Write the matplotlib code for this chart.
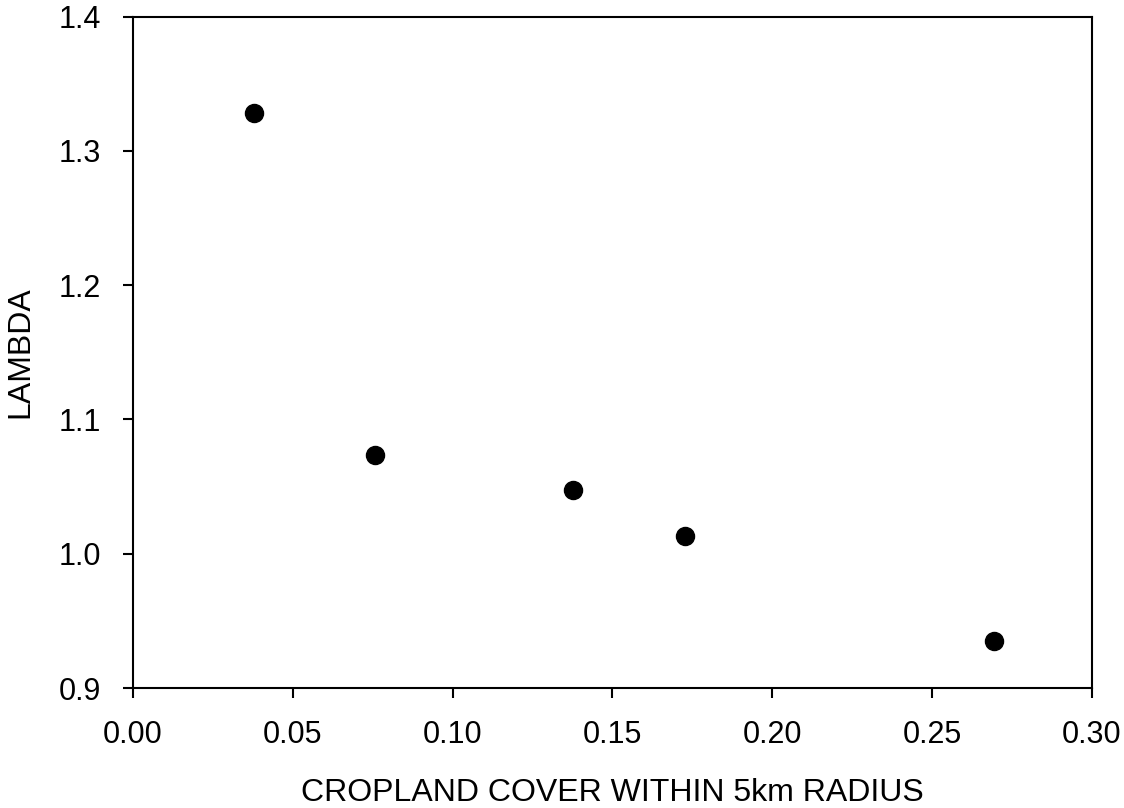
import numpy as np
import matplotlib.pyplot as plt

plt.rcParams['font.family'] = ['Liberation Sans', 'DejaVu Sans']

# cropland cover fraction vs. population growth rate
cropland = [0.038, 0.0757, 0.1377, 0.1727, 0.2694]
lam = [1.328, 1.0736, 1.0475, 1.0133, 0.935]

xticks = np.arange(0, 0.301, 0.05)
yticks = np.arange(0.9, 1.401, 0.1)

fig = plt.figure(figsize=(11.24, 8.08), dpi=100)
ax = fig.add_axes([0.1183, 0.1485, 0.8532, 0.831])

ax.plot(cropland, lam, 'o', color='black', markersize=13, clip_on=False)

ax.set_xlim(0, 0.30)
ax.set_ylim(0.9, 1.4)
ax.set_xticks(xticks)
ax.set_xticklabels(['%.2f' % t for t in xticks])
ax.set_yticks(yticks)
ax.set_yticklabels(['%.1f' % t for t in yticks])

for s in ax.spines.values():
    s.set_linewidth(1.5)
ax.tick_params(direction='out', length=7, width=1.5, labelsize=22)
ax.tick_params(axis='x', pad=16)
ax.tick_params(axis='y', pad=16)

ax.set_xlabel('CROPLAND COVER WITHIN 5km RADIUS', fontsize=23, labelpad=20)
ax.set_ylabel('LAMBDA', fontsize=23, labelpad=17)

fig.savefig('out.png', dpi=100)
